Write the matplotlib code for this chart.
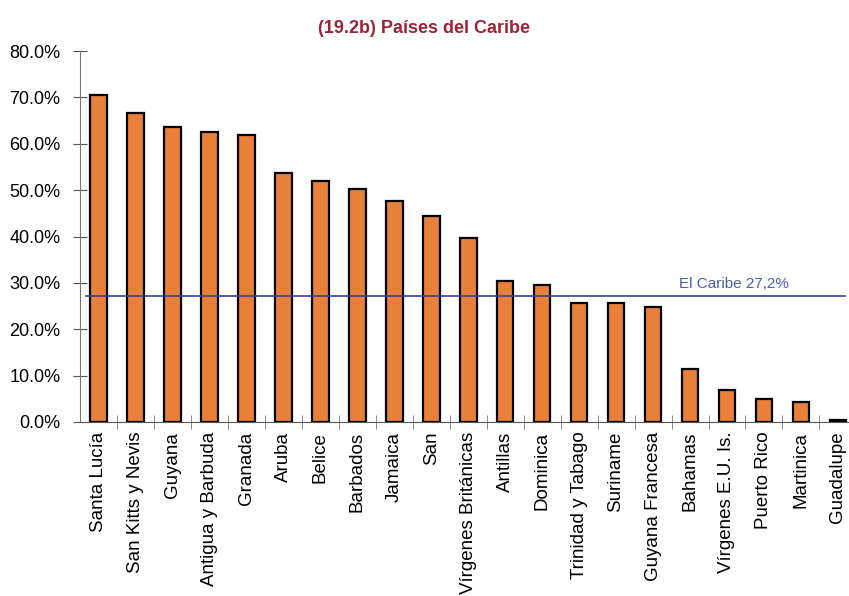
import numpy as np
import matplotlib.pyplot as plt

plt.rcParams['font.family'] = ['Liberation Sans', 'DejaVu Sans']

# Datos (porcentaje por país)
paises = ['Santa Lucía', 'San Kitts y Nevis', 'Guyana', 'Antigua y Barbuda',
          'Granada', 'Aruba', 'Belice', 'Barbados', 'Jamaica', 'San',
          'Vírgenes Británicas', 'Antillas', 'Dominica', 'Trinidad y Tabago',
          'Suriname', 'Guyana Francesa', 'Bahamas', 'Vírgenes E.U. Is.',
          'Puerto Rico', 'Martinica', 'Guadalupe']
valores = [70.5, 66.6, 63.6, 62.5, 61.9, 53.7, 51.9, 50.2, 47.6, 44.4,
           39.7, 30.4, 29.5, 25.6, 25.6, 24.8, 11.4, 6.9, 5.0, 4.3, 0.4]
promedio = 27.2
yticks = [0, 10, 20, 30, 40, 50, 60, 70, 80]

fig = plt.figure(figsize=(8.49, 5.96), dpi=100)
ax = fig.add_axes([80 / 849, 174 / 596, 769 / 849, 371 / 596])

x = np.arange(len(paises))
ax.bar(x, valores, width=0.45, color='#E9803A', edgecolor='black', linewidth=1.6, zorder=2)

# Línea del promedio
ax.plot([-0.35, len(paises) - 0.8], [promedio, promedio], color='#3a3f96', linewidth=1.2, zorder=3)
ax.text(17.2, promedio + 1.0, 'El Caribe 27,2%', color='#4a5cae', fontsize=11,
        ha='center', va='bottom')

ax.set_xlim(-0.5, 20.3)
ax.set_ylim(0, 80)

ax.set_yticks(yticks)
ax.set_yticklabels(['%.1f%%' % v for v in yticks], fontsize=13)
ax.tick_params(axis='y', direction='inout', length=10, color='#555555', pad=9)

ax.set_xticks(x)
ax.set_xticklabels(paises, rotation=90, fontsize=13.5)
ax.tick_params(axis='x', which='major', length=0, pad=7)
ax.set_xticks(x[:-1] + 0.5, minor=True)
ax.tick_params(axis='x', which='minor', direction='inout', length=10, color='#777777')

for s in ['top', 'right']:
    ax.spines[s].set_visible(False)
ax.spines['left'].set_color('#777777')
ax.spines['bottom'].set_color('#555555')

fig.text(0.5, 0.952, '(19.2b) Países del Caribe', color='#9b2335', fontsize=13,
         fontweight='bold', ha='center', va='center')

fig.savefig('out.png', dpi=100)
